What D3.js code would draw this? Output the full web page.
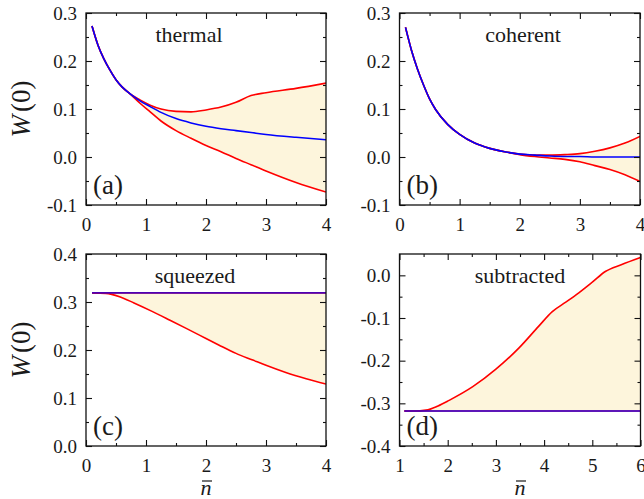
<!DOCTYPE html>
<html>
<head>
<meta charset="utf-8">
<script src="https://cdn.jsdelivr.net/npm/d3@7"></script>
<style>
  body { margin: 0; background: #fff; }
  svg { display: block; }
  text { font-family: "Liberation Serif", "Times New Roman", Times, "DejaVu Serif", serif; fill: #1a1a1a; }
</style>
</head>
<body>
<svg id="chart" width="644" height="499"></svg>
<script>
// ---- data ----
// (a) thermal
const xA     = [0.1, 0.2, 0.3, 0.4, 0.5, 0.6, 0.73, 0.9, 1.07, 1.25, 1.5, 1.75, 2.0, 2.25, 2.5, 2.75, 3.0, 3.5, 4.0];
const blueA  = [0.273, 0.233, 0.204, 0.181, 0.161, 0.146, 0.132, 0.117, 0.105, 0.093, 0.080, 0.071, 0.064, 0.059, 0.055, 0.051, 0.047, 0.041, 0.036];
const upperA = [0.273, 0.233, 0.204, 0.181, 0.161, 0.146, 0.132, 0.119, 0.108, 0.100, 0.095, 0.094, 0.098, 0.104, 0.114, 0.128, 0.134, 0.143, 0.154];
const lowerA = [0.273, 0.233, 0.204, 0.181, 0.161, 0.146, 0.132, 0.112, 0.094, 0.075, 0.055, 0.039, 0.024, 0.011, -0.003, -0.016, -0.029, -0.053, -0.073];

// (b) coherent
const xB     = [0.1, 0.2, 0.3, 0.4, 0.5, 0.6, 0.8, 1.0, 1.25, 1.5, 1.75, 2.0, 2.25, 2.5, 2.75, 3.0, 3.25, 3.5, 3.75, 4.0];
const blueB  = [0.270, 0.222, 0.183, 0.150, 0.121, 0.099, 0.068, 0.047, 0.029, 0.018, 0.011, 0.006, 0.004, 0.002, 0.001, 0.001, 0.000, 0.000, 0.000, 0.000];
const upperB = [0.270, 0.222, 0.183, 0.150, 0.121, 0.099, 0.068, 0.047, 0.029, 0.018, 0.011, 0.006, 0.004, 0.004, 0.005, 0.007, 0.012, 0.019, 0.029, 0.043];
const lowerB = [0.270, 0.222, 0.183, 0.150, 0.121, 0.099, 0.068, 0.047, 0.029, 0.018, 0.011, 0.005, 0.001, -0.002, -0.005, -0.010, -0.018, -0.026, -0.037, -0.051];

// (c) squeezed
const xC     = [0.1, 0.33, 0.56, 0.8, 1.11, 1.4, 1.67, 2.0, 2.22, 2.5, 2.78, 3.0, 3.33, 3.67, 4.0];
const redC   = [0.319, 0.318, 0.311, 0.298, 0.280, 0.262, 0.245, 0.224, 0.210, 0.193, 0.179, 0.168, 0.153, 0.140, 0.129];
const xBlueC = [0.1, 4.0];
const blueC  = [0.319, 0.319];

// (d) photon subtracted
const xD     = [1.1, 1.3, 1.55, 1.8, 2.03, 2.52, 3.0, 3.48, 3.89, 4.17, 4.45, 4.72, 5.0, 5.27, 5.6, 6.0];
const redD   = [-0.318, -0.318, -0.316, -0.306, -0.293, -0.261, -0.220, -0.170, -0.119, -0.085, -0.063, -0.041, -0.016, 0.009, 0.025, 0.042];
const xBlueD = [1.1, 6.0];
const blueD  = [-0.318, -0.318];

// ticks
const xTicks04   = [0, 1, 2, 3, 4];
const xMinor04   = [0.5, 1.5, 2.5, 3.5];
const xTicks16   = [1, 2, 3, 4, 5, 6];
const xMinor16   = [1.5, 2.5, 3.5, 4.5, 5.5];
const yTicksAB   = [-0.1, 0.0, 0.1, 0.2, 0.3];
const yMinorAB   = [-0.05, 0.05, 0.15, 0.25];
const yTicksC    = [0.0, 0.1, 0.2, 0.3, 0.4];
const yMinorC    = [0.05, 0.15, 0.25, 0.35];
const yTicksD    = [-0.4, -0.3, -0.2, -0.1, 0.0];
const yMinorD    = [-0.35, -0.25, -0.15, -0.05];

const RED = '#ff0000', BLUE = '#0000ff', FILL = '#fdf5dc';
const FONT = '"Liberation Serif", "Times New Roman", Times, "DejaVu Serif", serif';

const svg = d3.select('#chart');

const panels = [
  { tag: '(a)', name: 'thermal', box: [86, 13, 326, 205], xDom: [0, 4], yDom: [-0.1, 0.3],
    xt: xTicks04, xm: xMinor04, yt: yTicksAB, ym: yMinorAB, nameX: 189,
    band: { x: xA, lo: lowerA, hi: upperA },
    lines: [[xA, upperA, RED, 1], [xA, lowerA, RED, 1], [xA, blueA, BLUE, 1]], yLab: true, xLab: false },
  { tag: '(b)', name: 'coherent', box: [399.5, 13, 640, 205], xDom: [0, 4], yDom: [-0.1, 0.3],
    xt: xTicks04, xm: xMinor04, yt: yTicksAB, ym: yMinorAB, nameX: 523,
    band: { x: xB, lo: lowerB, hi: upperB },
    lines: [[xB, upperB, RED, 1], [xB, lowerB, RED, 1], [xB, blueB, BLUE, 1]], yLab: false, xLab: false },
  { tag: '(c)', name: 'squeezed', box: [86, 254, 326, 446], xDom: [0, 4], yDom: [0, 0.4],
    xt: xTicks04, xm: xMinor04, yt: yTicksC, ym: yMinorC, nameX: 195,
    band: { x: xC, lo: redC, hi: xC.map(() => blueC[0]) },
    lines: [[xBlueC, blueC, RED, 1], [xC, redC, RED, 1], [xBlueC, blueC, BLUE, 0.7]], yLab: true, xLab: true },
  { tag: '(d)', name: 'subtracted', box: [399.5, 254, 640.5, 446], xDom: [1, 6], yDom: [-0.4, 0.05],
    xt: xTicks16, xm: xMinor16, yt: yTicksD, ym: yMinorD, nameX: 520,
    band: { x: xD, lo: xD.map(() => blueD[0]), hi: redD },
    lines: [[xBlueD, blueD, RED, 1], [xD, redD, RED, 1], [xBlueD, blueD, BLUE, 0.85]], yLab: false, xLab: true }
];

panels.forEach(function(p, i) {
  const [x0, y0, x1, y1] = p.box;
  const x = d3.scaleLinear().domain(p.xDom).range([x0, x1]);
  const y = d3.scaleLinear().domain(p.yDom).range([y1, y0]);
  const g = svg.append('g');

  const clipId = 'clip' + i;
  g.append('clipPath').attr('id', clipId)
    .append('rect').attr('x', x0).attr('y', y0).attr('width', x1 - x0).attr('height', y1 - y0);
  const plot = g.append('g').attr('clip-path', 'url(#' + clipId + ')');

  // shaded region between the bounds
  const area = d3.area()
    .x((d, k) => x(p.band.x[k]))
    .y0((d, k) => y(p.band.lo[k]))
    .y1((d, k) => y(p.band.hi[k]))
    .curve(d3.curveMonotoneX);
  plot.append('path').datum(p.band.x).attr('d', area).attr('fill', FILL);

  p.lines.forEach(function(l) {
    const line = d3.line()
      .x((d, k) => x(l[0][k]))
      .y((d, k) => y(l[1][k]))
      .curve(d3.curveMonotoneX);
    plot.append('path').datum(l[0]).attr('d', line)
      .attr('fill', 'none').attr('stroke', l[2])
      .attr('stroke-width', 1.6)
      .attr('stroke-opacity', l[3]);
  });

  // axes with inward ticks on all four sides
  const fmtY = d => d.toFixed(1);
  const fmtX = d => String(d);
  function ax(gen, pos, vals, size, fmt, pad) {
    const a = g.append('g').attr('transform', pos)
      .call(gen.tickValues(vals).tickSize(-size).tickSizeOuter(0).tickPadding(pad || 0)
        .tickFormat(fmt || (() => '')));
    a.attr('font-family', FONT);
    a.select('.domain').remove();
    a.selectAll('line').attr('stroke', '#111').attr('stroke-width', 1.1);
    a.selectAll('text').attr('font-size', 19).attr('fill', '#1a1a1a').attr('font-family', FONT);
    return a;
  }
  ax(d3.axisBottom(x), `translate(0,${y1})`, p.xt, 6, fmtX, 13);
  ax(d3.axisBottom(x), `translate(0,${y1})`, p.xm, 3, null);
  ax(d3.axisTop(x), `translate(0,${y0})`, p.xt, 6, null);
  ax(d3.axisTop(x), `translate(0,${y0})`, p.xm, 3, null);
  ax(d3.axisLeft(y), `translate(${x0},0)`, p.yt, 6, fmtY, 9);
  ax(d3.axisLeft(y), `translate(${x0},0)`, p.ym, 3, null);
  ax(d3.axisRight(y), `translate(${x1},0)`, p.yt, 6, null);
  ax(d3.axisRight(y), `translate(${x1},0)`, p.ym, 3, null);

  g.append('rect').attr('x', x0).attr('y', y0).attr('width', x1 - x0).attr('height', y1 - y0)
    .attr('fill', 'none').attr('stroke', '#111').attr('stroke-width', 1.3);

  g.append('text').attr('x', p.nameX).attr('y', y0 + 29)
    .attr('text-anchor', 'middle').attr('font-size', 22).text(p.name);
  g.append('text').attr('x', x0 + 7).attr('y', y1 - 11)
    .attr('font-size', 27).text(p.tag);

  if (p.yLab) {
    const t = g.append('text')
      .attr('transform', `translate(30,${(y0 + y1) / 2}) rotate(-90)`)
      .attr('text-anchor', 'middle').attr('font-size', 27);
    t.append('tspan').attr('font-style', 'italic').text('W');
    t.append('tspan').attr('dx', 3).text('(0)');
  }
  if (p.xLab) {
    const cx = (x0 + x1) / 2;
    g.append('text').attr('x', cx).attr('y', 495).attr('text-anchor', 'middle')
      .attr('font-size', 22).attr('font-style', 'italic').text('n');
    g.append('line').attr('x1', cx - 4).attr('x2', cx + 6).attr('y1', 481).attr('y2', 481)
      .attr('stroke', '#1a1a1a').attr('stroke-width', 1.2);
  }
});
</script>
</body>
</html>
